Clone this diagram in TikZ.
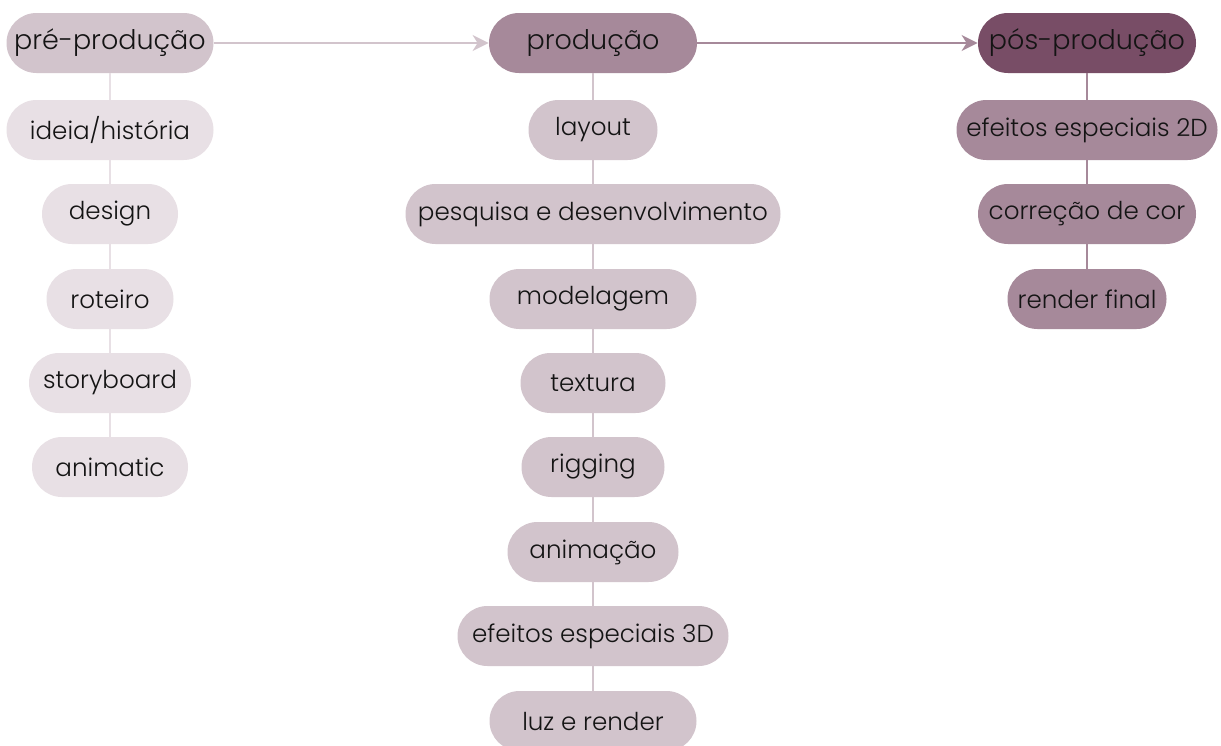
\documentclass[tikz,border=0pt]{standalone}
\usepackage{fontspec}
\setmainfont{Poppins}[UprightFont={* Light}]
\usetikzlibrary{arrows.meta}
\definecolor{txt}{HTML}{141414}
\definecolor{cA}{HTML}{D2C4CC}
\definecolor{cAl}{HTML}{E8E0E5}
\definecolor{cB}{HTML}{A6899A}
\definecolor{cC}{HTML}{784D66}
\tikzset{
  box/.style={rectangle, rounded corners=15pt, minimum height=30pt, inner sep=0pt, text=txt, font=\fontsize{12.3}{14}\selectfont},
  head/.style={box, font=\fontsize{13.5}{15}\selectfont},
  h1/.style={head, fill=cA},
  h2/.style={head, fill=cB},
  h3/.style={head, fill=cC},
  s1/.style={box, fill=cAl},
  s2/.style={box, fill=cA},
  s3/.style={box, fill=cB},
  l1/.style={draw=cAl, line width=1pt},
  l2/.style={draw=cA, line width=1pt},
  l3/.style={draw=cB, line width=1pt},
}
\begin{document}
\begin{tikzpicture}[x=0.5pt, y=-0.5pt]
\clip (0,0) rectangle (1221,745);
\fill[white] (0,0) rectangle (1221,745);
% column 1
\node[h1, minimum width=103.5pt] (pre) at (110,43) {pré-produção};
\node[s1, minimum width=103.5pt] (a1) at (110,130) {ideia/história};
\node[s1, minimum width=68pt] (a2) at (110,214) {design};
\node[s1, minimum width=63.5pt] (a3) at (110,299) {roteiro};
\node[s1, minimum width=81pt] (a4) at (110,383) {storyboard};
\node[s1, minimum width=78pt] (a5) at (110,467) {animatic};
% column 2
\node[h2, minimum width=104pt] (pro) at (593,43) {produção};
\node[s2, minimum width=64.5pt] (b1) at (593,130) {layout};
\node[s2, minimum width=187.5pt] (b2) at (593,214) {pesquisa e desenvolvimento};
\node[s2, minimum width=103.5pt] (b3) at (593,299) {modelagem};
\node[s2, minimum width=72.5pt] (b4) at (593,383) {textura};
\node[s2, minimum width=71.5pt] (b5) at (593,467) {rigging};
\node[s2, minimum width=85.5pt] (b6) at (593,552) {animação};
\node[s2, minimum width=135.5pt] (b7) at (593,636) {efeitos especiais 3D};
\node[s2, minimum width=103.5pt] (b8) at (593,721) {luz e render};
% column 3
\node[h3, minimum width=109pt] (pos) at (1087,43) {pós-produção};
\node[s3, minimum width=130.5pt] (c1) at (1087,130) {efeitos especiais 2D};
\node[s3, minimum width=109pt] (c2) at (1087,214) {correção de cor};
\node[s3, minimum width=79.5pt] (c3) at (1087,299) {render final};
% vertical connectors
\draw[l1] (pre) -- (a1); \draw[l1] (a1) -- (a2); \draw[l1] (a2) -- (a3); \draw[l1] (a3) -- (a4); \draw[l1] (a4) -- (a5);
\draw[l2] (pro) -- (b1); \draw[l2] (b1) -- (b2); \draw[l2] (b2) -- (b3); \draw[l2] (b3) -- (b4);
\draw[l2] (b4) -- (b5); \draw[l2] (b5) -- (b6); \draw[l2] (b6) -- (b7); \draw[l2] (b7) -- (b8);
\draw[l3] (pos) -- (c1); \draw[l3] (c1) -- (c2); \draw[l3] (c2) -- (c3);
% horizontal arrows
\draw[l2, -{Stealth[length=8pt, width=8pt, inset=2.5pt]}] (pre) -- (pro);
\draw[l3, -{Stealth[length=8pt, width=8pt, inset=2.5pt]}] (pro) -- (pos);
\end{tikzpicture}
\end{document}
